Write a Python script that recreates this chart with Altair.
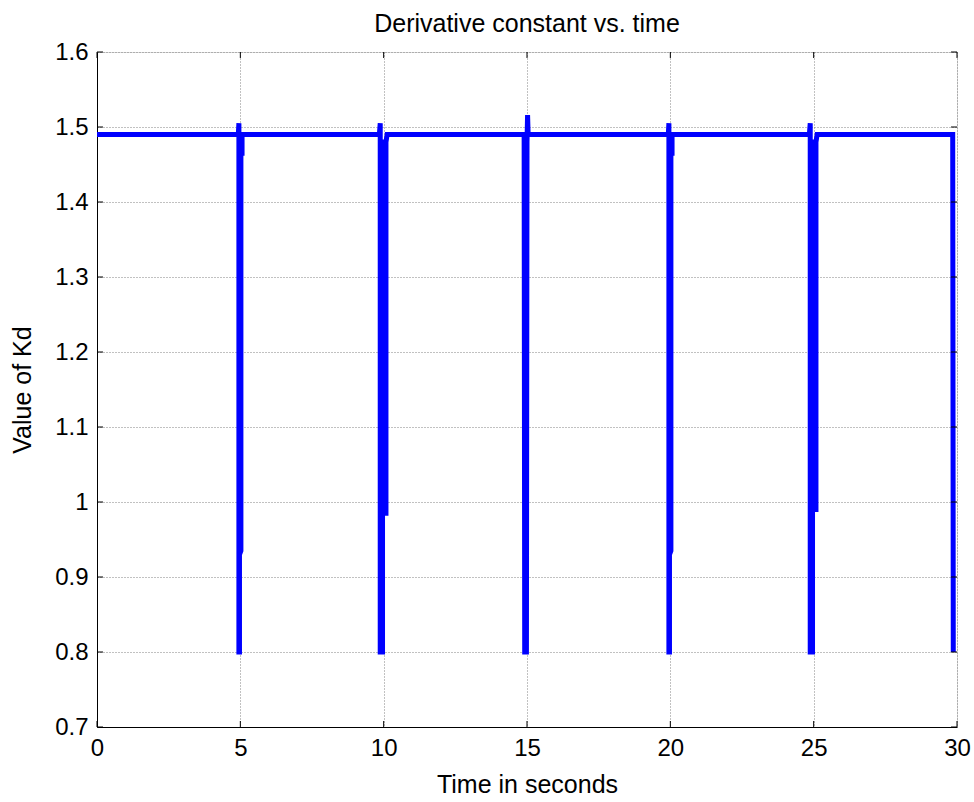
import altair as alt
import pandas as pd

# Kd trajectory (time in s, value of Kd)
time_s = [0.0,
          4.93, 4.95, 4.95, 4.97, 4.97, 5.02, 5.02, 5.06, 5.06,
          9.85, 9.88, 9.88, 9.96, 9.96, 10.05, 10.05, 10.08, 10.08, 10.12,
          14.90, 14.92, 14.98, 15.00, 15.02, 15.04,
          19.93, 19.95, 19.95, 19.97, 19.97, 20.02, 20.02, 20.06, 20.06,
          24.85, 24.88, 24.88, 24.96, 24.96, 25.05, 25.05, 25.08, 25.08, 25.12,
          29.85, 29.87]
kd_value = [1.49,
            1.49, 1.505, 0.80, 0.80, 0.93, 0.935, 1.465, 1.465, 1.49,
            1.49, 1.505, 0.80, 0.80, 1.48, 1.48, 0.985, 0.985, 1.48, 1.49,
            1.49, 0.80, 0.80, 1.48, 1.516, 1.49,
            1.49, 1.505, 0.80, 0.80, 0.93, 0.935, 1.465, 1.465, 1.49,
            1.49, 1.505, 0.80, 0.80, 1.48, 1.48, 0.99, 0.99, 1.48, 1.49,
            1.49, 0.80]

x_ticks = [0, 5, 10, 15, 20, 25, 30]
y_ticks = [0.7, 0.8, 0.9, 1.0, 1.1, 1.2, 1.3, 1.4, 1.5, 1.6]

W, H = 860, 675
FONT = "Liberation Sans"

df = pd.DataFrame({"t": time_s, "kd": kd_value, "i": list(range(len(time_s)))})
xt = pd.DataFrame({"v": x_ticks})
yt = pd.DataFrame({"v": y_ticks})

xs = alt.Scale(domain=[0, 30], nice=False, zero=False)
ys = alt.Scale(domain=[0.7, 1.6], nice=False, zero=False)

common = dict(ticks=False, grid=True, gridDash=[1, 2], gridColor="#777", gridOpacity=0.9,
              labelFontSize=24, titleFontSize=25, labelFont=FONT, titleFont=FONT,
              labelColor="#000", titleColor="#000", titleFontWeight="normal",
              domainColor="#000", labelFlush=False)

line = alt.Chart(df).mark_line(color="#0000FF", strokeWidth=5, clip=True).encode(
    x=alt.X("t:Q", scale=xs, title="Time in seconds",
            axis=alt.Axis(values=x_ticks, labelPadding=9, titlePadding=12, **common)),
    y=alt.Y("kd:Q", scale=ys, title="Value of Kd",
            axis=alt.Axis(values=y_ticks, labelPadding=9, titlePadding=19, format="~g", **common)),
    order="i:Q",
)

tick_len = 6
xb = alt.Chart(xt).mark_rule(color="#000", strokeWidth=1).encode(
    x=alt.X("v:Q", scale=xs), y=alt.value(H), y2=alt.value(H - tick_len))
xtop = alt.Chart(xt).mark_rule(color="#000", strokeWidth=1).encode(
    x=alt.X("v:Q", scale=xs), y=alt.value(0), y2=alt.value(tick_len))
yl = alt.Chart(yt).mark_rule(color="#000", strokeWidth=1).encode(
    y=alt.Y("v:Q", scale=ys), x=alt.value(0), x2=alt.value(tick_len))
yr = alt.Chart(yt).mark_rule(color="#000", strokeWidth=1).encode(
    y=alt.Y("v:Q", scale=ys), x=alt.value(W), x2=alt.value(W - tick_len))

chart = alt.layer(line, xb, xtop, yl, yr).properties(
    width=W, height=H,
    title=alt.TitleParams("Derivative constant vs. time", font=FONT, fontSize=25,
                          fontWeight="normal", color="#000", anchor="middle", offset=3),
    autosize=alt.AutoSizeParams(type="none"),
    padding={"left": 97, "top": 52, "right": 17, "bottom": 75},
).configure_view(stroke="#000", strokeWidth=1).configure(background="white")

chart.save("out.html", embed_options={"renderer": "svg", "actions": False})
